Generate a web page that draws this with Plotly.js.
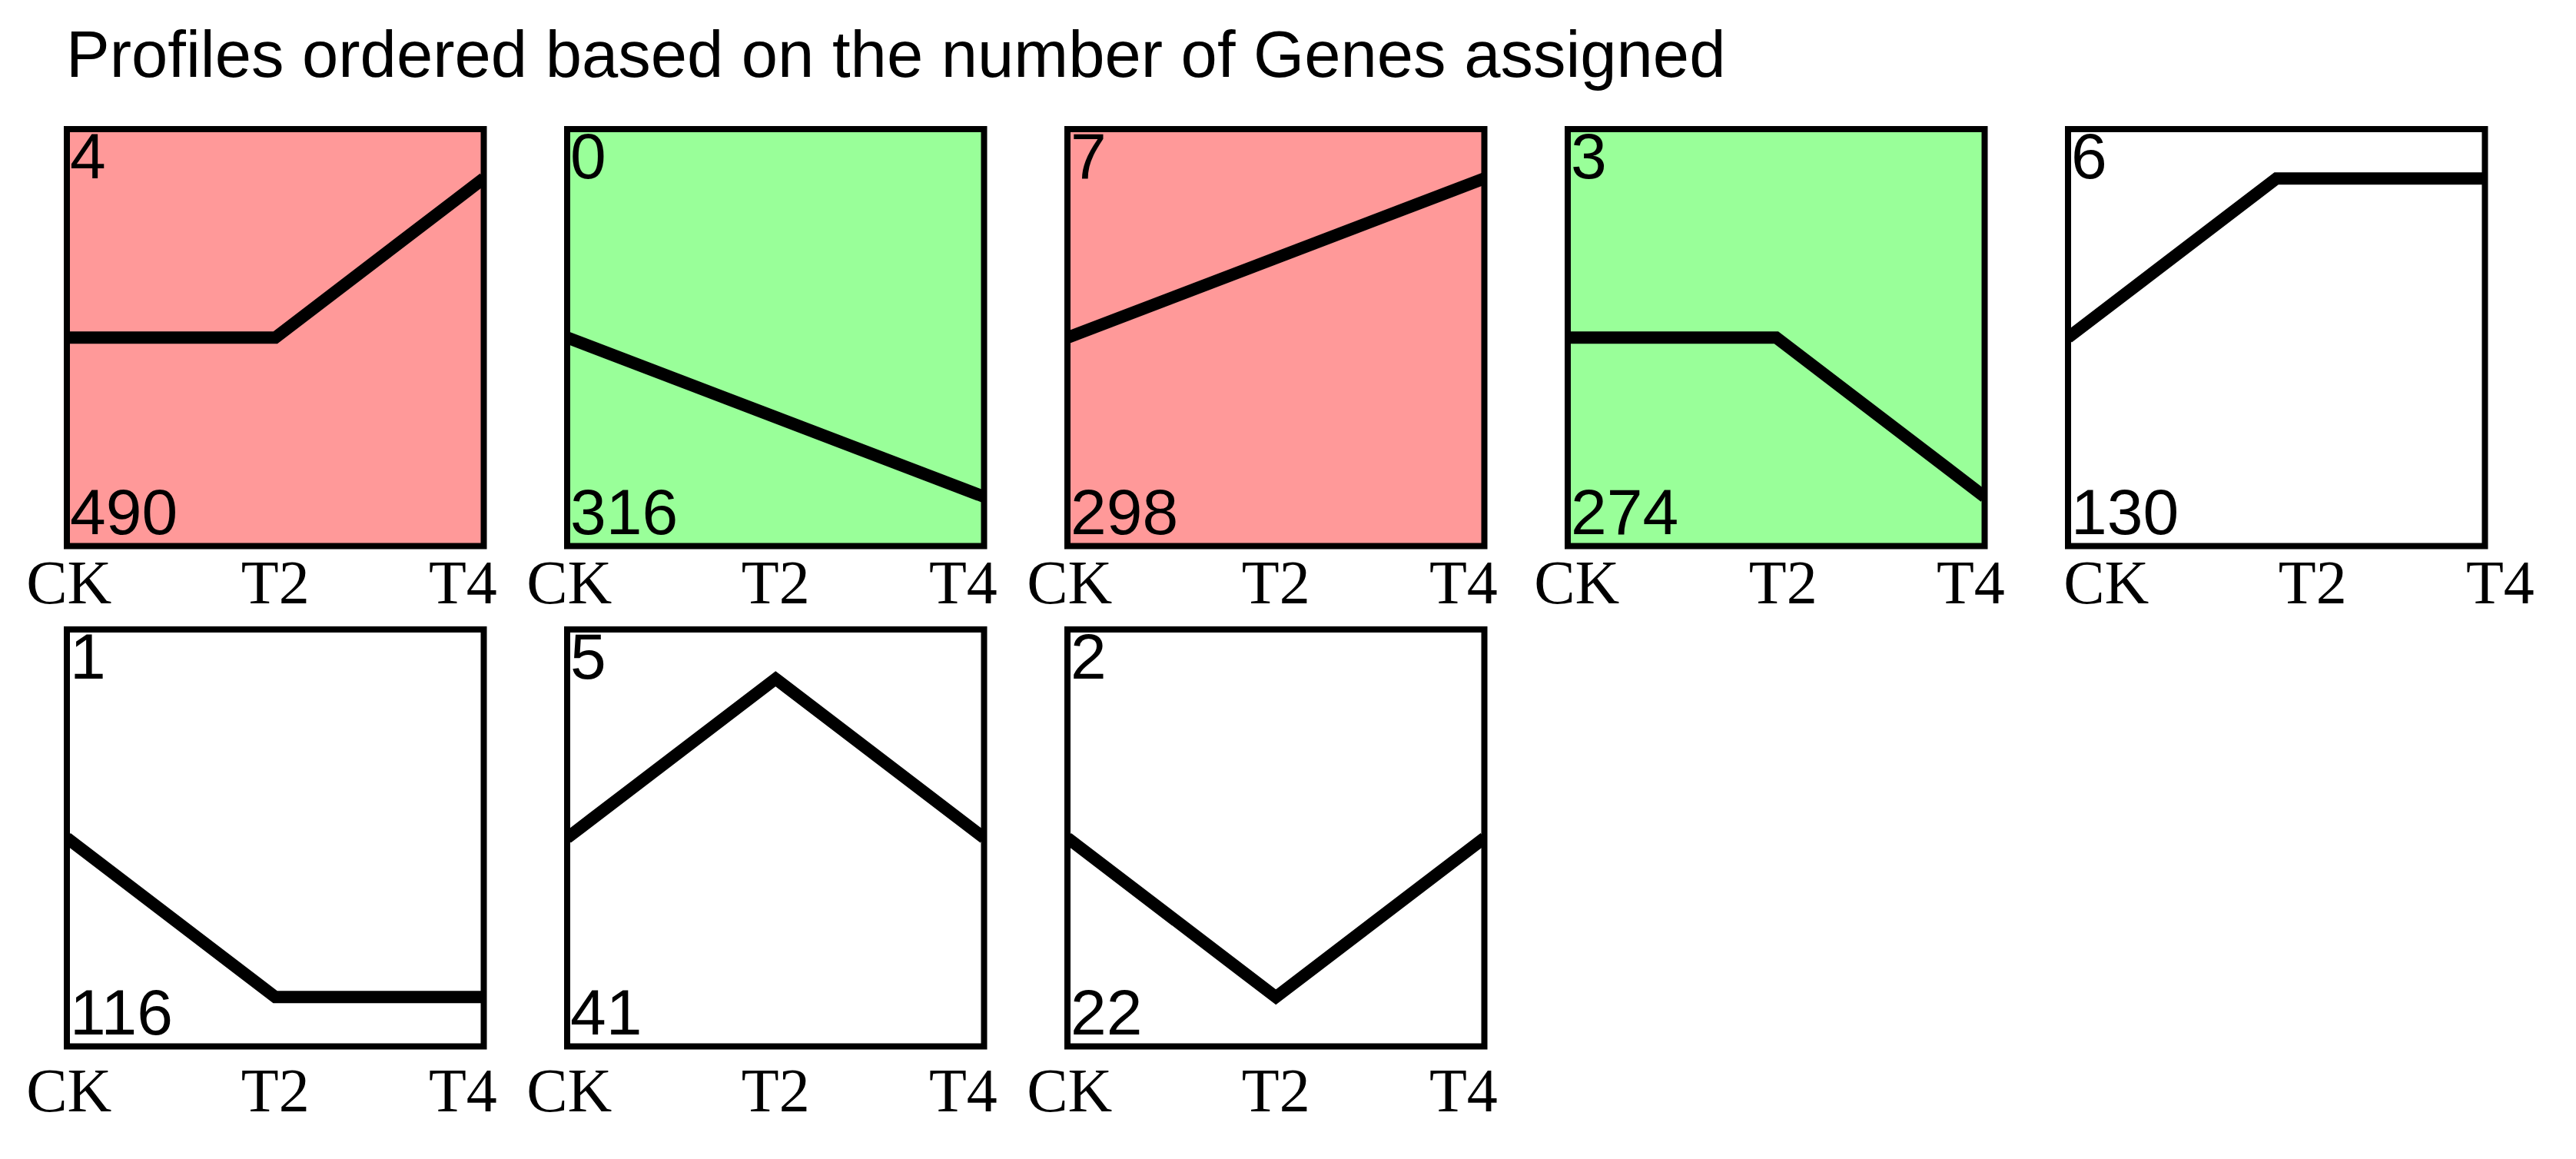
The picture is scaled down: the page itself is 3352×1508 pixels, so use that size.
<!DOCTYPE html>
<html>
<head>
<meta charset="utf-8">
<script src="https://cdn.plot.ly/plotly-3.0.1.min.js"></script>
<style>
  html, body { margin: 0; padding: 0; background: #fff; }
  #profiles { width: 3352px; height: 1508px; }
</style>
</head>
<body>
<div id="profiles"></div>
<script>
// STEM profiles, ordered by number of genes assigned
const timePoints = ['CK', 'T2', 'T4'];
const profileIds = [4, 0, 7, 3, 6, 1, 5, 2];
const geneCounts = [490, 316, 298, 274, 130, 116, 41, 22];
const profileValues = [
    [0, 0, 1],
    [0, -0.5, -1],
    [0, 0.5, 1],
    [0, 0, -1],
    [0, 1, 1],
    [0, -1, -1],
    [0, 1, 0],
    [0, -1, 0]
];
const significance = ['up', 'down', 'up', 'down', 'none', 'none', 'none', 'none'];

function renderProfiles() {
    const W = 3352, H = 1508;
    const panelSize = 542.5;
    const colLeft = 87, colPitch = 651, perRow = 5;
    const rowTop = [168, 819];
    const fillColors = { up: '#ff9999', down: '#99ff99', none: '#ffffff' };
    // tick labels in the screenshot drift a bit to the right on the last columns
    const labelShift = [0, 0, 0, 9, 47, 0, 0, 0];
    const rowStandoff = [-7, 3];
    const sansFont = 'Liberation Sans, Arial, sans-serif';
    const serifFont = 'Liberation Serif, Times New Roman, serif';

    const traces = [];
    const shapes = [];
    const annotations = [];
    const layout = {
        width: W,
        height: H,
        margin: { l: 0, r: 0, t: 0, b: 0 },
        paper_bgcolor: '#ffffff',
        plot_bgcolor: 'rgba(0,0,0,0)',
        showlegend: false,
        title: {
            text: 'Profiles ordered based on the number of Genes assigned',
            xref: 'container',
            yref: 'container',
            x: 86 / W,
            xanchor: 'left',
            y: 1 - 70 / H,
            yanchor: 'middle',
            font: { family: sansFont, size: 85, color: '#000' }
        }
    };

    profileIds.forEach((id, i) => {
        const n = i + 1;
        const row = Math.floor(i / perRow), col = i % perRow;
        const x0 = (colLeft + col * colPitch) / W;
        const x1 = (colLeft + col * colPitch + panelSize) / W;
        const y1 = 1 - rowTop[row] / H;
        const y0 = 1 - (rowTop[row] + panelSize) / H;
        const xa = 'xaxis' + (n > 1 ? n : ''), ya = 'yaxis' + (n > 1 ? n : '');
        const xr = 'x' + (n > 1 ? n : ''), yr = 'y' + (n > 1 ? n : '');

        traces.push({
            type: 'scatter',
            mode: 'lines',
            x: timePoints.map((t, k) => k),
            y: profileValues[i],
            xaxis: xr,
            yaxis: yr,
            line: { color: '#000', width: 16 },
            hoverinfo: 'skip'
        });

        layout[xa] = {
            domain: [x0, x1],
            anchor: yr,
            range: [0, 2],
            showgrid: false,
            zeroline: false,
            showline: false,
            ticks: '',
            tickvals: [0.01, 1, 1.9],
            ticktext: timePoints,
            ticklabelshift: labelShift[i],
            ticklabelstandoff: rowStandoff[row],
            tickfont: { family: serifFont, size: 80, color: '#000' },
            fixedrange: true
        };
        layout[ya] = {
            domain: [y0, y1],
            anchor: xr,
            range: [-1.31, 1.31],
            visible: false,
            fixedrange: true
        };

        // panel box, filled by significance
        shapes.push({
            type: 'rect',
            xref: xr + ' domain',
            yref: yr + ' domain',
            x0: 0, x1: 1, y0: 0, y1: 1,
            fillcolor: fillColors[significance[i]],
            line: { color: '#000', width: 8 },
            layer: 'below'
        });

        annotations.push({
            xref: xr + ' domain',
            yref: yr + ' domain',
            x: 0, y: 1,
            xanchor: 'left', yanchor: 'top',
            xshift: 3, yshift: 13,
            borderpad: 0,
            showarrow: false,
            text: String(id),
            font: { family: sansFont, size: 84, color: '#000' }
        });
        annotations.push({
            xref: xr + ' domain',
            yref: yr + ' domain',
            x: 0, y: 0,
            xanchor: 'left', yanchor: 'bottom',
            xshift: 3, yshift: -3,
            borderpad: 0,
            showarrow: false,
            text: String(geneCounts[i]),
            font: { family: sansFont, size: 84, color: '#000' }
        });
    });

    layout.shapes = shapes;
    layout.annotations = annotations;

    Plotly.newPlot('profiles', traces, layout, { displayModeBar: false, staticPlot: true });
}

renderProfiles();
</script>
</body>
</html>
